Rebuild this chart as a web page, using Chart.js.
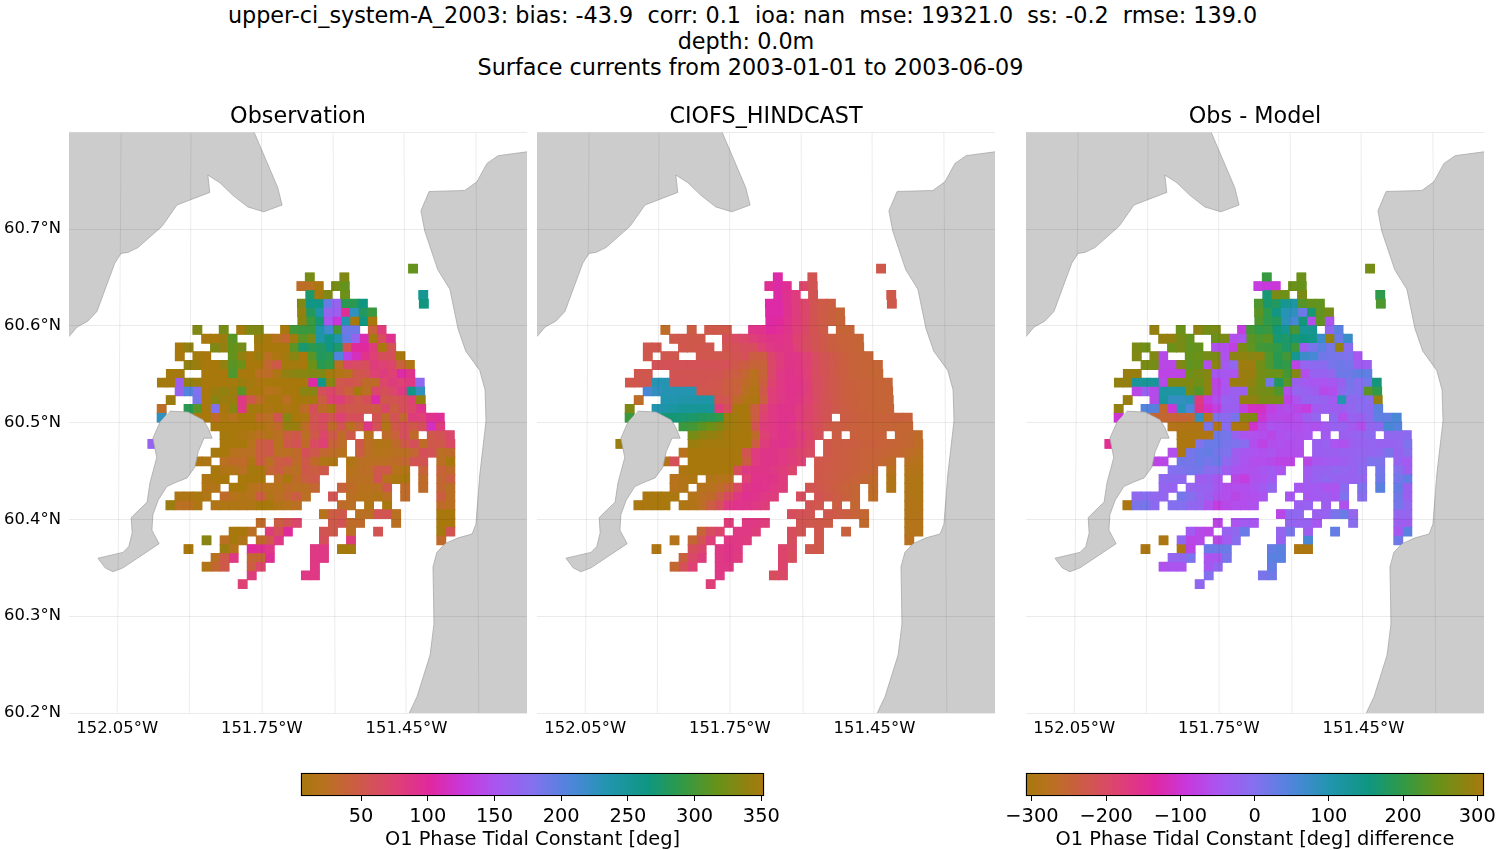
<!DOCTYPE html>
<html><head><meta charset="utf-8">
<style>
html,body{margin:0;padding:0;background:#fff;width:1500px;height:850px;overflow:hidden}
canvas{position:absolute;display:block}
.sup{position:absolute;font:22.3px "DejaVu Sans";color:#000;white-space:pre;transform:translateX(-50%);line-height:26px}
</style>
<script src="https://cdn.jsdelivr.net/npm/chart.js@4/dist/chart.umd.js"></script>
</head><body>
<div class="sup" style="left:742.5px;top:2px">upper-ci_system-A_2003: bias: -43.9  corr: 0.1  ioa: nan  mse: 19321.0  ss: -0.2  rmse: 139.0</div>
<div class="sup" style="left:746px;top:28px">depth: 0.0m</div>
<div class="sup" style="left:750.5px;top:54px">Surface currents from 2003-01-01 to 2003-06-09</div>
<canvas id="p1" width="527" height="656" style="left:0;top:94px"></canvas>
<canvas id="p2" width="458" height="656" style="left:537px;top:94px"></canvas>
<canvas id="p3" width="458" height="656" style="left:1026px;top:94px"></canvas>
<canvas id="c1" width="530" height="87" style="left:270px;top:765px"></canvas>
<canvas id="c2" width="500" height="87" style="left:1000px;top:765px"></canvas>
<script>
const panelTitles=['Observation','CIOFS_HINDCAST','Obs - Model'];
const latTicks=[60.2,60.3,60.4,60.5,60.6,60.7,60.8];
const lonTicks=[-152.05,-151.75,-151.45];
const graticuleLonTop=[-152.042,-151.897,-151.7505,-151.602,-151.455,-151.306];
const graticuleLonBottom=[-152.050,-151.9005,-151.7495,-151.598,-151.451,-151.300];
const phaseTicks=[50,100,150,200,250,300,350];
const diffTicks=[-300,-200,-100,0,100,200,300];

const northLand=[[-152.15,60.805],[-151.770,60.805],[-151.717,60.743],[-151.708,60.725],[-151.746,60.718],[-151.779,60.723],[-151.810,60.735],[-151.837,60.748],[-151.862,60.756],[-151.858,60.738],[-151.895,60.731],[-151.926,60.725],[-151.957,60.703],[-152.007,60.681],[-152.028,60.676],[-152.042,60.675],[-152.055,60.665],[-152.092,60.615],[-152.111,60.605],[-152.133,60.599],[-152.15,60.589]];
const eastLand=[[-151.2,60.78],[-151.260,60.776],[-151.283,60.768],[-151.304,60.749],[-151.329,60.740],[-151.403,60.739],[-151.420,60.719],[-151.412,60.698],[-151.385,60.658],[-151.360,60.638],[-151.343,60.597],[-151.327,60.574],[-151.298,60.554],[-151.287,60.534],[-151.285,60.502],[-151.298,60.446],[-151.306,60.395],[-151.314,60.385],[-151.343,60.381],[-151.370,60.375],[-151.387,60.366],[-151.395,60.351],[-151.393,60.292],[-151.401,60.260],[-151.428,60.217],[-151.449,60.195],[-151.2,60.195]];
const islandLand=[[-151.941,60.512],[-151.903,60.511],[-151.872,60.503],[-151.862,60.495],[-151.853,60.484],[-151.870,60.484],[-151.882,60.470],[-151.889,60.454],[-151.905,60.443],[-151.930,60.438],[-151.947,60.434],[-151.965,60.420],[-151.976,60.405],[-151.978,60.389],[-151.963,60.375],[-152.038,60.350],[-152.059,60.346],[-152.075,60.350],[-152.090,60.360],[-152.038,60.366],[-152.026,60.372],[-152.019,60.386],[-152.021,60.402],[-151.988,60.418],[-151.982,60.438],[-151.968,60.464],[-151.976,60.484],[-151.961,60.501]];

/* occupied mesh columns per mesh row: [first,last] */
const cellRuns=[
[[30,30]],[[18,18],[22,22]],[[17,19],[21,22]],[[18,20],[22,22],[31,31]],[[17,24],[31,31]],[[17,25]],[[17,25]],
[[5,5],[8,8],[10,12],[15,23],[25,26]],[[6,9],[12,27]],[[3,4],[7,10],[12,27]],[[3,3],[5,6],[9,28]],
[[4,29]],[[2,3],[6,29]],[[1,30]],[[3,30]],[[2,2],[5,30]],[[1,1],[4,30]],[[1,1],[5,23],[25,32]],[[7,32]],
[[8,22],[24,24],[26,29],[31,33]],[[0,0],[8,21],[23,33]],[[7,21],[23,33]],[[5,6],[8,20],[22,30],[32,33]],
[[7,19],[22,28],[30,30],[32,33]],[[6,8],[10,12],[14,18],[22,28],[30,30],[32,33]],
[[6,7],[9,18],[21,26],[28,28],[30,30],[32,33]],[[3,6],[8,17],[20,20],[22,26],[28,28],[32,33]],
[[2,5],[7,16],[21,22],[24,24],[26,26],[32,33]],[[19,21],[23,27],[32,33]],
[[12,12],[14,16],[20,23],[27,27],[32,33]],[[9,11],[13,15],[19,20],[22,22],[25,25],[32,33]],
[[6,6],[8,10],[12,14],[19,19],[22,22],[32,32]],[[4,4],[8,9],[11,13],[18,19],[21,22]],
[[7,9],[11,13],[18,19]],[[6,8],[11,12],[18,18]],[[11,11],[17,18]],[[10,10]]];

const obsValues=[
[315],[325,330],[28,25,8,325,315],[275,350,330,320,252],[330,262,262,195,165,285,285,265,266],
[340,280,240,165,160,95,225,280,295],[335,295,270,150,125,235,355,265,355],
[330,325,350,330,330,355,300,295,295,240,215,300,190,190,40,80],
[355,355,345,310,345,2,20,35,350,310,325,240,262,235,195,165,110,350,60,92],
[355,340,330,340,315,325,350,355,5,3,310,272,285,280,262,275,55,100,100,80,355,55],
[355,350,355,315,340,355,345,25,10,350,335,5,310,280,285,205,135,115,90,75,60,60,355],
[340,345,355,355,340,310,320,355,355,35,50,350,350,355,320,285,290,25,70,65,60,80,75,70,40,15],
[350,350,355,355,355,305,355,355,25,30,10,340,335,335,330,330,350,15,20,50,55,75,80,75,105,90],
[350,350,160,340,345,355,355,355,350,345,350,10,5,3,355,355,355,105,260,335,50,55,50,30,30,70,80,75,85,170],
[165,205,180,355,345,340,345,310,355,355,20,15,5,355,335,335,60,70,55,40,350,25,70,60,70,85,262,225],
[345,185,355,335,345,345,85,50,30,5,5,25,5,350,350,45,75,80,60,50,60,105,50,55,60,75,340],
[28,285,310,355,180,355,335,85,350,350,10,5,10,355,30,60,30,10,55,50,50,50,45,70,45,60,70,90],
[225,355,355,30,10,20,5,5,30,25,55,335,355,10,55,65,55,75,60,60,55,30,55,35,80,75,92,95],
[5,3,3,5,5,10,20,30,340,345,30,55,60,30,55,25,40,85,55,15,50,60,50,60,115,80],
[350,352,10,15,25,15,25,45,50,25,50,70,50,28,50,20,30,40,60,30,50,55,70],
[165,355,355,5,20,45,50,20,50,55,30,65,75,40,28,50,25,15,15,30,50,60,30,50,50,65],
[350,355,20,25,25,45,50,25,25,30,60,50,35,28,20,45,25,18,20,25,25,35,60,55,25,30],
[10,12,25,30,30,10,45,25,45,50,30,50,30,12,10,12,25,25,25,25,30,35,55,55,25,5],
[5,15,15,25,350,355,35,45,30,25,50,45,50,20,25,28,50,50,20,15,40,40,30],
[10,5,3,355,355,355,25,5,30,45,50,25,25,25,55,20,10,355,30,35,45],
[15,15,355,355,20,25,20,20,30,25,25,35,40,30,22,22,25,50,30,30,35,25],
[10,10,8,12,30,20,15,20,45,15,25,35,45,25,55,25,20,20,15,25,30,45,25],
[345,25,25,12,15,12,12,15,12,352,355,15,20,25,30,25,15,352,30,25],
[20,45,50,25,25,55,55,25,5,5],[30,45,55,70,50,55,30,30,25,5,5],[5,355,25,80,60,100,55,50,25,55,350,55],
[335,25,350,15,30,50,85,60,80,30],[352,345,20,100,95,85,85,85,350,350],[25,50,85,35,35,95,85,85],
[15,35,50,45,70,85],[80,85,85],[75]];

const modelValues=[
[50],[105,55],[95,105,95,70,55],[105,92,82,55,50],[105,105,92,82,70,55,48,45,50],
[105,105,92,82,70,55,48,42,38],[104,100,90,80,68,55,48,42,38],
[28,45,50,50,50,88,90,100,96,88,78,68,55,48,38,38],
[50,52,50,50,58,65,70,78,84,88,90,86,74,64,56,50,44,40,39,38],
[52,52,52,50,52,52,55,58,62,62,75,85,88,86,76,64,56,50,44,40,39,38],
[52,52,52,52,52,52,52,55,58,45,45,70,82,88,86,76,64,56,50,44,40,39,38],
[58,58,58,58,58,58,58,58,58,50,45,38,40,68,80,88,86,76,64,56,50,44,40,39,38,37],
[52,52,55,55,55,55,55,55,50,45,35,22,38,68,85,90,86,76,64,56,50,44,40,39,37,36],
[52,52,52,232,232,56,56,55,55,54,52,46,40,30,20,42,72,85,90,88,78,64,56,50,44,42,40,39,38,38],
[212,225,232,232,232,232,52,52,50,45,40,25,15,50,78,85,90,88,78,64,56,50,44,42,40,39,38,38],
[28,235,235,238,238,240,240,55,52,30,15,10,45,78,85,90,86,76,64,56,50,44,42,40,39,38,38],
[330,235,240,245,250,250,250,250,80,60,355,358,45,70,85,90,88,82,72,62,56,50,46,42,40,39,38,38],
[295,270,270,272,275,280,282,290,345,350,355,45,75,85,90,90,82,72,62,55,46,44,42,40,40,40,42,40],
[295,300,310,320,330,345,350,358,55,80,85,90,86,76,68,60,50,46,44,42,40,39,38,38,36,36],
[325,335,340,345,350,352,358,30,75,85,90,88,82,72,60,46,42,40,40,40,36,34,30],
[345,345,348,350,350,350,352,358,45,80,88,92,86,78,68,50,46,46,44,42,42,40,38,36,34,28],
[22,355,352,352,352,355,5,55,82,88,88,85,80,72,65,50,46,44,42,40,40,38,36,34,28,24],
[18,58,355,355,355,355,358,2,45,82,88,88,85,80,75,52,48,46,44,42,40,38,34,30,24,20],
[10,358,358,358,2,5,62,85,88,88,85,80,72,50,48,46,44,42,40,38,22,18,16],
[20,15,10,15,18,20,75,90,90,88,82,50,48,46,42,40,36,32,15,14,12],
[20,15,20,22,28,40,65,88,92,90,85,80,55,52,48,44,40,36,30,14,14,12],
[8,6,6,8,18,25,30,45,65,85,92,90,85,80,62,55,50,46,42,36,28,14,12],
[8,8,6,6,12,15,25,45,60,85,90,88,85,80,55,52,45,34,16,14],
[62,58,56,52,48,44,40,34,16,16],[80,85,85,80,55,52,50,48,32,18,18],[38,62,72,85,85,80,62,55,52,42,18,18],
[18,35,55,78,85,85,82,62,52,22],[12,60,70,85,88,85,72,65,52,50],[42,68,80,85,88,82,72,62],
[35,58,75,85,85,72],[85,62,68],[78]];

const diffValues=[
[260],[205,250],[-85,-90,-95,250,245],[165,265,255,265,195],[225,170,180,135,115,230,245,240,225],
[235,195,150,95,85,20,165,240,260],[225,195,185,90,60,160,-60,240,-50],
[290,250,285,260,265,-85,215,200,205,160,135,220,130,135,-20,40],
[290,290,260,245,250,265,-60,-50,235,225,235,165,175,165,155,145,70,290,25,75],
[265,255,250,265,240,245,-55,-60,-80,265,240,215,210,200,175,210,-35,10,40,15,290,-5],
[270,270,-65,245,250,260,265,-55,280,285,280,285,225,190,215,135,70,60,20,15,10,5,-45],
[265,260,-70,-70,270,240,245,-60,280,-40,-15,300,300,255,225,190,200,-75,-20,-10,-10,10,20,15,-35,-35],
[295,295,-75,-75,-75,250,265,275,-45,-45,-50,295,295,260,250,250,215,275,-60,-25,-25,-20,20,20,35,35],
[290,290,125,130,125,-65,270,270,270,255,280,-75,-50,295,295,285,255,15,180,235,-30,-40,-45,-50,-45,-30,15,-5,15,160],
[-70,-30,-65,115,115,115,260,230,280,-70,-45,-30,-30,270,260,255,225,-60,-20,-25,-35,-65,-60,-15,5,0,235,195],
[295,-65,120,80,80,90,-170,-85,-60,-25,-30,290,285,265,265,260,-75,-45,-20,-20,-25,-40,100,-15,-10,-5,290],
[290,45,45,-260,-95,95,50,-160,-105,-80,-30,-30,-80,-110,-110,-80,-65,-60,-70,-85,-40,-30,-35,-30,-20,-5,-10,40],
[-100,-255,-255,-250,-250,-255,80,-285,5,-10,10,275,270,-100,-70,-65,-70,-60,-35,-20,-15,-60,-25,-30,-10,35,35,55],
[-285,-290,-295,-295,10,-295,-5,-300,-305,-105,-70,-50,-55,-60,-60,-50,-55,-40,-25,-25,-40,-60,-20,-10,60,45],
[-300,-300,-300,-295,20,15,-25,-50,-55,-60,-70,-55,-50,-55,-50,-40,-30,-25,-20,-10,-15,-15,-10],
[-150,-300,-300,5,25,25,10,5,-5,-60,-75,-60,-55,-60,-55,-30,-25,-50,-55,-30,-25,-20,-25,-25,-20,5],
[-60,-300,15,25,30,15,5,-35,-45,-50,-55,-50,-60,-60,-60,-30,-30,-30,-25,-25,-20,-20,-15,10,-25,-5],
[-75,-70,20,15,25,15,25,-15,-35,-50,-60,-60,-65,-75,-75,-70,-45,-40,-40,-35,-25,-15,5,5,-25,-40],
[0,5,15,15,-5,-5,-35,-50,-55,-55,-45,-40,-50,-40,-25,-25,-15,-20,-25,-10,15,0,-35],
[-15,-10,-15,-35,-30,-45,-70,-85,-55,-50,-40,-35,-25,-15,-25,-25,-25,-20,20,15,30],
[-20,-25,-20,-25,-25,-45,-60,-60,-60,-50,-40,-20,-45,-40,-40,-50,-50,-10,5,40,30,-30],
[-15,-5,-15,-20,15,0,-20,-30,-55,-60,-70,-60,-60,-50,-45,-45,-40,-35,-45,5,-5,20,-30],
[-300,10,15,-10,0,0,-15,-20,-55,-85,-65,-60,-60,-55,-30,-25,-35,-55,15,-15],
[-70,-15,-15,-30,-25,10,25,-20,-20,-20],[-75,-50,-40,-45,-20,-25,-25,-45,-5,-30,-35],[-40,-65,-70,-25,-15,25,-20,10,-35,30,-45,40],
[-300,-15,-70,-65,-70,-40,-5,-25,55,20],[-300,-300,-75,25,20,25,30,40,-300,-300],[-20,-15,5,-50,-50,10,40,40],
[-55,-50,-50,-45,-15,30],[0,10,20],[-15]];

/* colormap of the reference colorbar */
const cmapStops=[[0,[168,120,13]],[.05,[184,114,30]],[.12,[204,92,69]],[.2,[222,66,114]],[.28,[224,40,160]],[.35,[200,56,220]],[.42,[170,85,240]],[.5,[132,112,239]],[.58,[79,133,220]],[.66,[34,149,176]],[.75,[15,150,128]],[.82,[47,154,72]],[.9,[104,146,24]],[1,[168,120,13]]];
function cmap(t){t=Math.max(0,Math.min(1,t));
 for(let i=1;i<cmapStops.length;i++){const[a,ca]=cmapStops[i-1],[b,cb]=cmapStops[i];
  if(t<=b){const f=(t-a)/(b-a);return `rgb(${ca.map((c,k)=>Math.round(c+(cb[k]-c)*f)).join(',')})`}}
 return 'rgb(168,120,13)'}

const meshLon=(c,r)=>-151.8928+(c-4.5)*(27.09-.06*Math.max(0,20-r))/1446.3;
const meshLat=r=>60.6593-r*.00906;
function cellsOf(values){const pts=[];
 cellRuns.forEach((runs,r)=>{let i=0;runs.forEach(([a,b])=>{for(let c=a;c<=b;c++,i++){
  if(values[r][i]!==undefined)pts.push({x:meshLon(c,r),y:meshLat(r),v:values[r][i]})}})});
 return pts}
const poly=a=>a.map(([x,y])=>({x,y}));

Chart.defaults.font.family='"DejaVu Sans"';
Chart.defaults.color='#000';
Chart.defaults.animation=false;

function panel(id,idx,values,vmin,vmax,showLat){
 const grat=graticuleLonTop.map((t,i)=>({type:'line',data:[{x:t,y:60.8},{x:graticuleLonBottom[i],y:60.2}],borderColor:'rgba(0,0,0,.08)',borderWidth:1,pointRadius:0,fill:false}));
 const land=[northLand,eastLand,islandLand].map(a=>({type:'line',data:poly(a),borderColor:'#a0a0a0',borderWidth:.7,backgroundColor:'#cccccc',pointRadius:0,tension:0,fill:'shape'}));
 const pts=cellsOf(values);
 const face=c=>cmap((c.raw.v-vmin)/(vmax-vmin));
 /* a slightly larger copy underneath closes the anti-aliasing seams between neighbouring cells */
 const cells={type:'scatter',data:pts,showLine:false,pointStyle:'rect',pointRadius:6.4,pointBorderWidth:0,pointBackgroundColor:face};
 const under={type:'scatter',data:pts,showLine:false,pointStyle:'rect',pointRadius:6.95,pointBorderWidth:0,pointBackgroundColor:face};
 return new Chart(document.getElementById(id),{type:'scatter',data:{datasets:[...grat,...land,cells,under]},options:{
  responsive:false,events:[],
  layout:{padding:0,autoPadding:false},
  plugins:{legend:{display:false},tooltip:{enabled:false},
   title:{display:true,text:panelTitles[idx],fullSize:false,font:{size:22.3,weight:'normal',lineHeight:1.2},padding:{top:10,bottom:1.7},color:'#000'}},
  scales:{
   x:{type:'linear',min:-152.15,max:-151.2,grid:{display:false,drawTicks:false},border:{display:false},
    afterBuildTicks:s=>{s.ticks=lonTicks.map(value=>({value}))},
    afterFit:s=>{s.height=37;s.paddingLeft=0;s.paddingRight=0},
    ticks:{autoSkip:false,maxRotation:0,font:{size:16.4},padding:6,callback:v=>Math.abs(v).toFixed(2)+'°W'}},
   y:{type:'linear',min:60.2,max:60.8,border:{display:false},
    grid:{color:'rgba(0,0,0,.08)',lineWidth:1,drawTicks:false,z:1},
    afterBuildTicks:s=>{s.ticks=latTicks.map(value=>({value}))},
    afterFit:s=>{s.width=showLat?69:0;s.paddingTop=0;s.paddingBottom=0},
    ticks:{display:showLat,padding:8,font:{size:16.4},callback:v=>v>60.75?'':v.toFixed(1)+'°N'}}
  }}});
}
panel('p1',0,obsValues,5,352,true);
panel('p2',1,modelValues,5,352,false);
panel('p3',2,diffValues,-308,309,false);

function colorbar(id,vmin,vmax,ticks,label,padL,padR){
 return new Chart(document.getElementById(id),{type:'bar',data:{labels:[''],datasets:[{data:[[vmin,vmax]],barPercentage:1,categoryPercentage:1,borderColor:'#000',borderWidth:1.4,borderSkipped:false,clip:false,
   backgroundColor:c=>{const a=c.chart.chartArea;if(!a)return '#888';const g=c.chart.ctx.createLinearGradient(a.left,0,a.right,0);for(let i=0;i<=100;i++)g.addColorStop(i/100,cmap(i/100));return g}}]},
 options:{indexAxis:'y',responsive:false,events:[],layout:{padding:{left:padL,right:padR,top:8}},
  plugins:{legend:{display:false},tooltip:{enabled:false}},
  scales:{y:{display:false},
   x:{type:'linear',min:vmin,max:vmax,border:{display:false},
    grid:{drawOnChartArea:false,drawTicks:true,tickLength:5,tickColor:'#000',tickWidth:1},
    afterBuildTicks:s=>{s.ticks=ticks.map(value=>({value}))},
    afterFit:s=>{s.height=56},
    ticks:{autoSkip:false,maxRotation:0,font:{size:19.4},padding:4,callback:v=>String(v).replace('-','\u2212')},
    title:{display:true,text:label,font:{size:19.4},padding:{top:0,bottom:0},color:'#000'}}}}});
}
colorbar('c1',5,352,phaseTicks,'O1 Phase Tidal Constant [deg]',31,36);
colorbar('c2',-308,309,diffTicks,'O1 Phase Tidal Constant [deg] difference',26,16);
</script>
</body></html>
